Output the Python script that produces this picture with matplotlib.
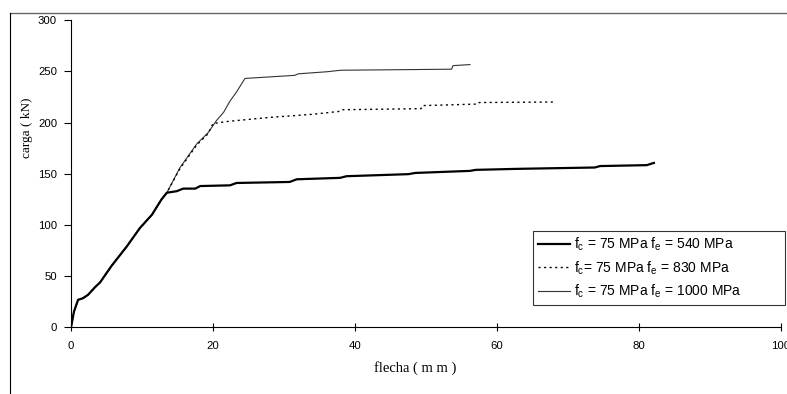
import matplotlib.pyplot as plt
from matplotlib.lines import Line2D

plt.rcParams['font.family'] = ['Liberation Sans', 'DejaVu Sans']
plt.rcParams['mathtext.fontset'] = 'custom'
plt.rcParams['mathtext.rm'] = 'Liberation Sans'
plt.rcParams['mathtext.default'] = 'rm'

# shared elastic branch (flecha mm, carga kN)
x_base = [0, 0.42, 1.0, 1.7, 2.4, 3.4, 4.1, 5.7, 7.85, 9.7, 11.4, 12.75, 13.5]
y_base = [0, 15.5, 27, 28.6, 31.9, 39.4, 44, 60, 79, 97, 110, 125, 131.5]

# fe = 540 MPa
x_540 = x_base + [14.9, 15.8, 17.5, 18.2, 22.4, 23.3, 30.8, 31.8, 37.9, 38.8,
                  47.5, 48.5, 56.2, 57.0, 63.0, 73.8, 74.5, 81.1, 82.1]
y_540 = y_base + [133, 135.5, 135.5, 138, 138.7, 141, 142, 144.6, 146, 147.6,
                  149.6, 150.8, 152.8, 153.8, 154.8, 156.1, 157.5, 158.4, 160.6]

# fe = 830 MPa
x_830 = x_base + [15.35, 17.7, 19.3, 20.0, 22, 25, 28, 31, 34, 36, 38.0, 38.3,
                  44, 49.3, 49.5, 57.3, 57.5, 68.0, 68.2]
y_830 = y_base + [155, 178, 189, 199, 201, 203, 205, 206.5, 208, 209.5, 211,
                  212.5, 213, 213.5, 216.5, 218, 219.5, 220, 221]

# fe = 1000 MPa
x_1000 = x_base + [15.35, 17.7, 19.3, 20.5, 21.5, 22.4, 23.3, 24.5, 31.5, 32.0,
                   36.0, 38.0, 53.6, 53.8, 56.2]
y_1000 = y_base + [156, 179, 190, 202, 210, 221, 229.6, 243, 246, 247.5,
                   249.5, 251, 252, 255.5, 256.5]

labels = ['f$_c$ = 75 MPa f$_e$ = 540 MPa',
          'f$_c$= 75 MPa f$_e$ = 830 MPa',
          'f$_c$ = 75 MPa f$_e$ = 1000 MPa']

fig = plt.figure(figsize=(7.87, 3.94), dpi=100)
ax = fig.add_axes([0.0902, 0.1688, 0.9022, 0.7804])

ax.plot(x_1000, y_1000, color='#333333', lw=0.8, label=labels[2])
ax.plot(x_830, y_830, color='black', lw=1.0, ls=(0, (1.5, 2.5)), label=labels[1])
ax.plot(x_540, y_540, color='black', lw=1.6, label=labels[0])

ax.set_xlim(0, 100)
ax.set_ylim(0, 300)
ax.set_xticks(range(0, 101, 20))
ax.set_yticks(range(0, 301, 50))
ax.spines['top'].set_visible(False)
ax.spines['right'].set_visible(False)
ax.tick_params(axis='x', direction='inout', length=6, pad=7, labelsize=8.2)
ax.tick_params(axis='y', direction='out', length=5, pad=5, labelsize=8.2)

fig.text(0.034, 1 - 128 / 394, 'carga ( kN)', rotation=90, ha='center', va='center',
         family='Liberation Serif', fontsize=9.5)
fig.text(415 / 787, 1 - 368 / 394, 'flecha ( m m )', ha='center', va='center',
         family='Liberation Serif', fontsize=10.5)

handles, labs = ax.get_legend_handles_labels()
leg = ax.legend(handles[::-1], labs[::-1], loc='lower left',
                bbox_to_anchor=(0.651, 0.073, 0.355, 0.244), mode='expand',
                fontsize=10, frameon=True, fancybox=False, handlelength=2.3,
                handletextpad=0.3, borderaxespad=0, labelspacing=0.45,
                borderpad=0.35)
leg.get_frame().set_edgecolor('black')
leg.get_frame().set_linewidth(0.8)

# outer frame (top and left edges)
fig.add_artist(Line2D([0.0133, 1.0], [0.968, 0.968], color='#666666', lw=1.0))
fig.add_artist(Line2D([0.0133, 0.0133], [0.0, 0.968], color='black', lw=0.8))

fig.savefig('out.png', dpi=100)
